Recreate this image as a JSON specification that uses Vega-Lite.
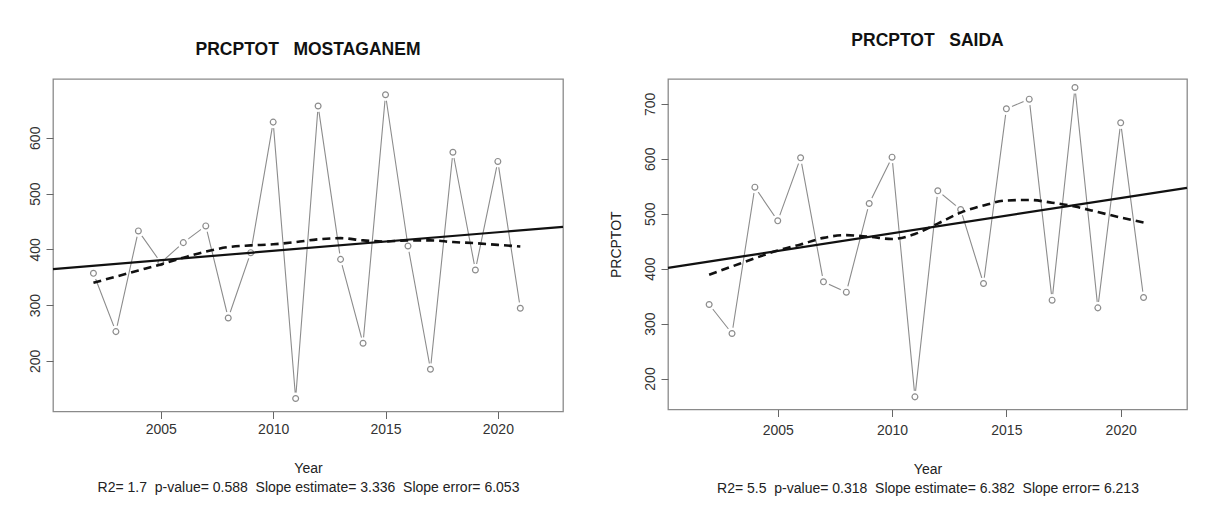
{
  "$schema": "https://vega.github.io/schema/vega-lite/v6.json",
  "background": "white",
  "padding": {"left": 27, "top": 31, "right": 5, "bottom": 5},
  "autosize": {"type": "pad"},
  "spacing": 39,
  "config": {
    "font": "Liberation Sans",
    "view": {"stroke": "#8a8a8a", "strokeWidth": 1.3},
    "axis": {"domain": false, "grid": false, "tickColor": "#666", "tickWidth": 1, "tickSize": 7,
      "labelColor": "#333", "labelFontSize": 14, "labelFont": "Liberation Sans",
      "titleFont": "Liberation Sans", "titleFontSize": 14, "titleFontWeight": "normal", "titleColor": "#222"},
    "title": {"font": "Liberation Sans", "fontSize": 17.5, "fontWeight": "bold", "color": "#111", "anchor": "middle", "baseline": "bottom"}
  },
  "datasets": {
    "obs": [
      {"station": "MOSTAGANEM", "year": 2002, "value": 357, "loess": 340},
      {"station": "MOSTAGANEM", "year": 2003, "value": 252.5, "loess": 351},
      {"station": "MOSTAGANEM", "year": 2004, "value": 433, "loess": 362},
      {"station": "MOSTAGANEM", "year": 2005, "value": 376, "loess": 373},
      {"station": "MOSTAGANEM", "year": 2006, "value": 412, "loess": 385},
      {"station": "MOSTAGANEM", "year": 2007, "value": 442, "loess": 396},
      {"station": "MOSTAGANEM", "year": 2008, "value": 277, "loess": 404},
      {"station": "MOSTAGANEM", "year": 2009, "value": 394, "loess": 407},
      {"station": "MOSTAGANEM", "year": 2010, "value": 628, "loess": 409},
      {"station": "MOSTAGANEM", "year": 2011, "value": 132.5, "loess": 413},
      {"station": "MOSTAGANEM", "year": 2012, "value": 657, "loess": 418},
      {"station": "MOSTAGANEM", "year": 2013, "value": 382, "loess": 420},
      {"station": "MOSTAGANEM", "year": 2014, "value": 231.6, "loess": 416},
      {"station": "MOSTAGANEM", "year": 2015, "value": 677, "loess": 414},
      {"station": "MOSTAGANEM", "year": 2016, "value": 406, "loess": 416},
      {"station": "MOSTAGANEM", "year": 2017, "value": 185, "loess": 416},
      {"station": "MOSTAGANEM", "year": 2018, "value": 574, "loess": 413},
      {"station": "MOSTAGANEM", "year": 2019, "value": 363, "loess": 411},
      {"station": "MOSTAGANEM", "year": 2020, "value": 557.6, "loess": 408},
      {"station": "MOSTAGANEM", "year": 2021, "value": 294.3, "loess": 405},
      {"station": "SAIDA", "year": 2002, "value": 334.7, "loess": 389},
      {"station": "SAIDA", "year": 2003, "value": 281.9, "loess": 404},
      {"station": "SAIDA", "year": 2004, "value": 548.3, "loess": 419},
      {"station": "SAIDA", "year": 2005, "value": 487, "loess": 433},
      {"station": "SAIDA", "year": 2006, "value": 601.7, "loess": 444},
      {"station": "SAIDA", "year": 2007, "value": 376, "loess": 456},
      {"station": "SAIDA", "year": 2008, "value": 357.2, "loess": 461},
      {"station": "SAIDA", "year": 2009, "value": 518.6, "loess": 458},
      {"station": "SAIDA", "year": 2010, "value": 602.9, "loess": 454},
      {"station": "SAIDA", "year": 2011, "value": 166.6, "loess": 463},
      {"station": "SAIDA", "year": 2012, "value": 541.6, "loess": 482},
      {"station": "SAIDA", "year": 2013, "value": 507.6, "loess": 502},
      {"station": "SAIDA", "year": 2014, "value": 372.9, "loess": 515},
      {"station": "SAIDA", "year": 2015, "value": 690.9, "loess": 524},
      {"station": "SAIDA", "year": 2016, "value": 708.5, "loess": 525},
      {"station": "SAIDA", "year": 2017, "value": 342.6, "loess": 520},
      {"station": "SAIDA", "year": 2018, "value": 729.7, "loess": 513},
      {"station": "SAIDA", "year": 2019, "value": 328.6, "loess": 503},
      {"station": "SAIDA", "year": 2020, "value": 665.4, "loess": 493},
      {"station": "SAIDA", "year": 2021, "value": 347.4, "loess": 484}
    ],
    "fit": [
      {"station": "MOSTAGANEM", "year": 2000.2, "value": 364.5},
      {"station": "MOSTAGANEM", "year": 2022.9, "value": 440.3},
      {"station": "SAIDA", "year": 2000.2, "value": 401.5},
      {"station": "SAIDA", "year": 2022.9, "value": 547}
    ]
  },
  "hconcat": [
    {
      "width": 510,
      "height": 332.5,
      "title": {"text": "PRCPTOT\u00a0\u00a0\u00a0MOSTAGANEM", "offset": 21},
      "encoding": {
        "x": {"field": "year", "type": "quantitative",
          "scale": {"domain": [2000.2, 2022.9], "nice": false, "zero": false},
          "axis": {"values": [2005, 2010, 2015, 2020], "format": "d", "labelPadding": 4,
            "title": ["Year", "R2=\u00a01.7\u00a0\u00a0p-value=\u00a00.588\u00a0\u00a0Slope\u00a0estimate=\u00a03.336\u00a0\u00a0Slope\u00a0error=\u00a06.053"],
            "titlePadding": 25, "titleLineHeight": 19}},
        "y": {"field": "value", "type": "quantitative",
          "scale": {"domain": [109.3, 705.3], "nice": false, "zero": false},
          "axis": {"values": [200, 300, 400, 500, 600], "labelAngle": -90, "labelAlign": "center", "labelBaseline": "bottom", "labelPadding": 4, "title": null}}
      },
      "layer": [
        {"data": {"name": "obs"}, "transform": [{"filter": "datum.station === 'MOSTAGANEM'"}],
          "mark": {"type": "line", "color": "#8c8c8c", "strokeWidth": 1.1}},
        {"data": {"name": "obs"}, "transform": [{"filter": "datum.station === 'MOSTAGANEM'"}],
          "mark": {"type": "point", "shape": "circle", "filled": true, "color": "white", "opacity": 1, "size": 150}},
        {"data": {"name": "obs"}, "transform": [{"filter": "datum.station === 'MOSTAGANEM'"}],
          "mark": {"type": "point", "shape": "circle", "filled": false, "color": "#8c8c8c", "opacity": 1, "size": 34, "strokeWidth": 1.2}},
        {"data": {"name": "fit"}, "transform": [{"filter": "datum.station === 'MOSTAGANEM'"}],
          "mark": {"type": "line", "color": "#111", "strokeWidth": 2.2}},
        {"data": {"name": "obs"}, "transform": [{"filter": "datum.station === 'MOSTAGANEM'"}],
          "mark": {"type": "line", "color": "#111", "strokeWidth": 2.6, "strokeDash": [8, 5], "interpolate": "monotone"},
          "encoding": {"y": {"field": "loess", "type": "quantitative"}}}
      ]
    },
    {
      "width": 519,
      "height": 330.5,
      "title": {"text": "PRCPTOT\u00a0\u00a0\u00a0SAIDA", "offset": 29.5},
      "encoding": {
        "x": {"field": "year", "type": "quantitative",
          "scale": {"domain": [2000.2, 2022.9], "nice": false, "zero": false},
          "axis": {"values": [2005, 2010, 2015, 2020], "format": "d", "labelPadding": 7,
            "title": ["Year", "R2=\u00a05.5\u00a0\u00a0p-value=\u00a00.318\u00a0\u00a0Slope\u00a0estimate=\u00a06.382\u00a0\u00a0Slope\u00a0error=\u00a06.213"],
            "titlePadding": 25, "titleLineHeight": 19}},
        "y": {"field": "value", "type": "quantitative",
          "scale": {"domain": [143.6, 745.2], "nice": false, "zero": false},
          "axis": {"values": [200, 300, 400, 500, 600, 700], "labelAngle": -90, "labelAlign": "center", "labelBaseline": "bottom", "labelPadding": 4,
            "title": "PRCPTOT", "titlePadding": 20}}
      },
      "layer": [
        {"data": {"name": "obs"}, "transform": [{"filter": "datum.station === 'SAIDA'"}],
          "mark": {"type": "line", "color": "#8c8c8c", "strokeWidth": 1.1}},
        {"data": {"name": "obs"}, "transform": [{"filter": "datum.station === 'SAIDA'"}],
          "mark": {"type": "point", "shape": "circle", "filled": true, "color": "white", "opacity": 1, "size": 150}},
        {"data": {"name": "obs"}, "transform": [{"filter": "datum.station === 'SAIDA'"}],
          "mark": {"type": "point", "shape": "circle", "filled": false, "color": "#8c8c8c", "opacity": 1, "size": 34, "strokeWidth": 1.2}},
        {"data": {"name": "fit"}, "transform": [{"filter": "datum.station === 'SAIDA'"}],
          "mark": {"type": "line", "color": "#111", "strokeWidth": 2.2}},
        {"data": {"name": "obs"}, "transform": [{"filter": "datum.station === 'SAIDA'"}],
          "mark": {"type": "line", "color": "#111", "strokeWidth": 2.6, "strokeDash": [8, 5], "interpolate": "monotone"},
          "encoding": {"y": {"field": "loess", "type": "quantitative"}}}
      ]
    }
  ]
}
